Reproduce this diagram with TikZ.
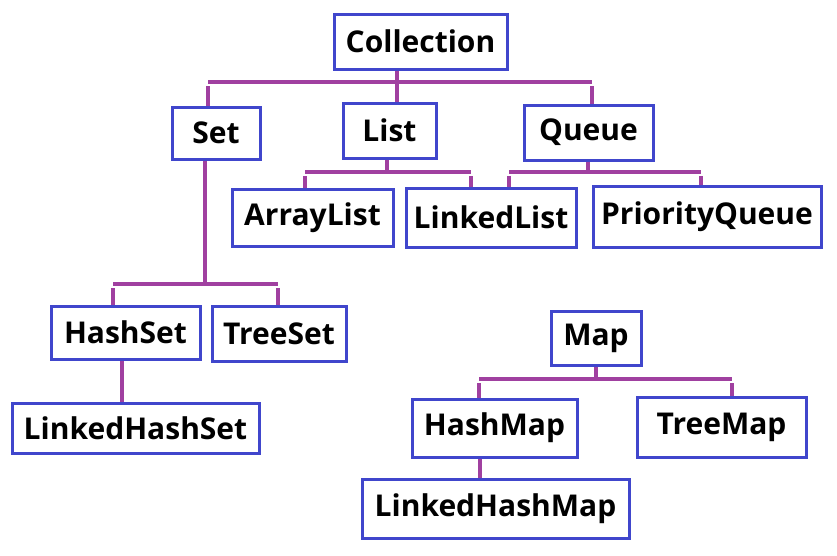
\documentclass[tikz,border=0pt]{standalone}
\usepackage{fontspec}
\setmainfont{Open Sans}
\definecolor{boxblue}{RGB}{64,70,204}
\definecolor{linkpurple}{RGB}{160,64,160}
\begin{document}
\begin{tikzpicture}[x=1pt,y=-1pt,
  cls/.style={draw=boxblue,line width=3pt,fill=white,inner sep=0pt,
    font=\fontsize{30}{34}\selectfont\bfseries,text=black},
  link/.style={draw=linkpurple,line width=3.2pt}]
\useasboundingbox (0,0) rectangle (837,555);
\newcommand{\cnode}[6]{\node[cls,minimum width=#4,minimum height=#5] (#1) at (#2,#3) {#6};}
% nodes
\cnode{coll}{420.5}{41.5}{173pt}{55pt}{Collection}
\cnode{set}{216}{133}{88pt}{52pt}{Set}
\cnode{list}{389.5}{130.5}{93pt}{55pt}{List}
\cnode{queue}{588.5}{132.5}{129pt}{55pt}{Queue}
\cnode{alist}{312.5}{217.5}{161pt}{57pt}{ArrayList}
\cnode{llist}{491}{217.5}{170pt}{59pt}{LinkedList}
\cnode{pq}{707}{216.5}{228pt}{61pt}{PriorityQueue}
\cnode{hset}{125.5}{332.5}{149pt}{53pt}{HashSet}
\cnode{tset}{279}{333.5}{134pt}{55pt}{TreeSet}
\cnode{lhset}{135.5}{428}{247pt}{50pt}{LinkedHashSet}
\cnode{map}{596}{338}{90pt}{54pt}{Map}
\cnode{hmap}{494.5}{428}{165pt}{58pt}{HashMap}
\cnode{tmap}{721.5}{427}{169pt}{60pt}{TreeMap}
\cnode{lhmap}{495.5}{508.5}{267pt}{59pt}{LinkedHashMap}
% bar coordinates
\coordinate (c1) at (397,82);
\coordinate (c1l) at (208,82);
\coordinate (c1r) at (592,82);
\coordinate (s1) at (205,284);
\coordinate (s1l) at (113,284);
\coordinate (s1r) at (278,284);
\coordinate (l1) at (387,172);
\coordinate (l1l) at (305,172);
\coordinate (l1r) at (471,172);
\coordinate (q1) at (588,172);
\coordinate (q1l) at (509,172);
\coordinate (q1r) at (701,172);
\coordinate (m1) at (596,379);
\coordinate (m1l) at (479,379);
\coordinate (m1r) at (732,379);
% Collection
\draw[link] (coll.south -| c1) -- (list.north -| c1);
\draw[link] (c1l) -- (c1r);
\draw[link] ([yshift=-4pt]c1l) -- (set.north -| c1l);
\draw[link] ([yshift=-4pt]c1r) -- (queue.north -| c1r);
% Set
\draw[link] (set.south -| s1) -- (s1);
\draw[link] (s1l) -- (s1r);
\draw[link] ([yshift=-4pt]s1l) -- (hset.north -| s1l);
\draw[link] ([yshift=-4pt]s1r) -- (tset.north -| s1r);
\draw[link] (hset.south -| 122,0) -- (lhset.north -| 122,0);
% List
\draw[link] (list.south -| l1) -- (l1);
\draw[link] (l1l) -- (l1r);
\draw[link] ([yshift=-4pt]l1l) -- (alist.north -| l1l);
\draw[link] ([yshift=-4pt]l1r) -- (llist.north -| l1r);
% Queue
\draw[link] (queue.south -| q1) -- (q1);
\draw[link] (q1l) -- (q1r);
\draw[link] ([yshift=-4pt]q1l) -- (llist.north -| q1l);
\draw[link] ([yshift=-4pt]q1r) -- (pq.north -| q1r);
% Map
\draw[link] (map.south -| m1) -- (m1);
\draw[link] (m1l) -- (m1r);
\draw[link] ([yshift=-4pt]m1l) -- (hmap.north -| m1l);
\draw[link] ([yshift=-4pt]m1r) -- (tmap.north -| m1r);
\draw[link] (hmap.south -| 480,0) -- (lhmap.north -| 480,0);
\end{tikzpicture}
\end{document}
